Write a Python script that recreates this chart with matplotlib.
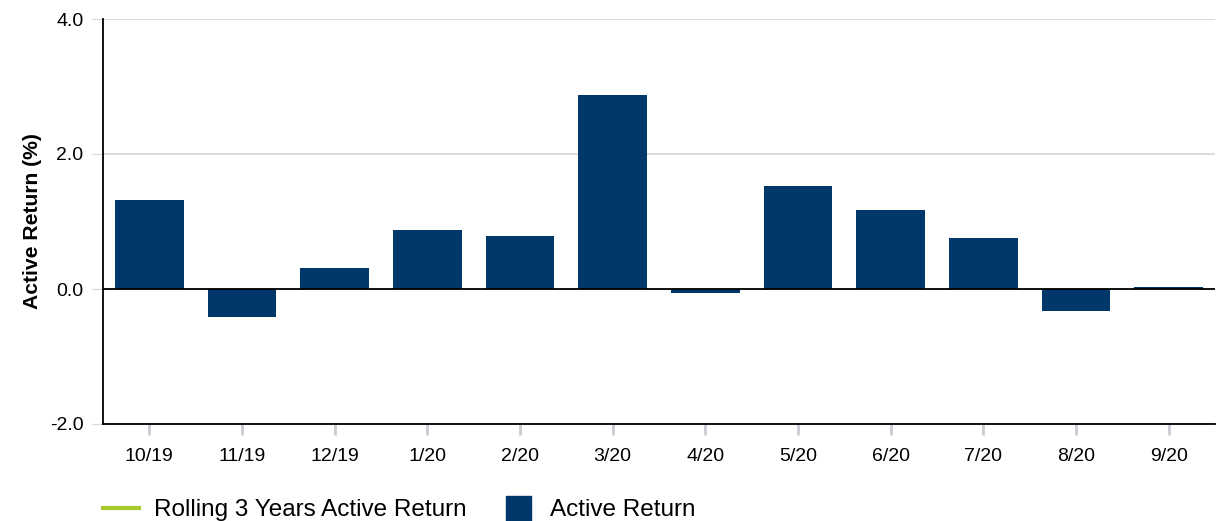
import matplotlib.pyplot as plt
from matplotlib.lines import Line2D

plt.rcParams['font.family'] = ['Liberation Sans', 'DejaVu Sans']

months = ['10/19', '11/19', '12/19', '1/20', '2/20', '3/20', '4/20', '5/20', '6/20', '7/20', '8/20', '9/20']
active_return = [1.32, -0.41, 0.31, 0.87, 0.79, 2.87, -0.06, 1.53, 1.17, 0.76, -0.33, 0.03]

navy = '#00386b'

fig = plt.figure(figsize=(12.22, 5.21), dpi=100)
ax = fig.add_axes([103 / 1222, 97 / 521, 1112 / 1222, 405 / 521])

x = range(len(months))
ax.bar(x, active_return, width=0.74, color=navy, zorder=3)
ax.axhline(0, color='black', linewidth=1.3, zorder=4)

ax.set_ylim(-2, 4)
ax.set_xlim(-0.5, len(months) - 0.5)
ax.set_yticks([-2, 0, 2, 4])
ax.set_yticklabels(['-2.0', '0.0', '2.0', '4.0'])
ax.set_xticks(list(x))
ax.set_xticklabels(months)
ax.grid(axis='y', color='#d9d9d9', linewidth=1.3, zorder=0)

for s in ['top', 'right']:
    ax.spines[s].set_visible(False)
ax.spines['left'].set_color('black')
ax.spines['left'].set_linewidth(1.3)
ax.spines['bottom'].set_color('black')
ax.spines['bottom'].set_linewidth(1.3)

ax.tick_params(axis='y', length=8, color='#d9d9d9', labelsize=14, pad=6)
ax.tick_params(axis='x', length=8, width=2, color='#c8cdd3', labelsize=14, pad=9)

ax.set_ylabel('Active Return (%)', fontsize=15.2, fontweight='bold', labelpad=6)

handles = [Line2D([0], [0], color='#a8c92c', linewidth=3),
           Line2D([0], [0], marker='s', markersize=18, linestyle='none',
                  color=navy)]
fig.legend(handles, ['Rolling 3 Years Active Return', 'Active Return'],
           loc='center left', bbox_to_anchor=(103 / 1222, 1 - 510 / 521),
           ncol=2, frameon=False, fontsize=17.5, handlelength=1.5,
           borderpad=0, borderaxespad=0,
           columnspacing=1.38, handletextpad=0.58)

fig.savefig('out.png', dpi=100)
